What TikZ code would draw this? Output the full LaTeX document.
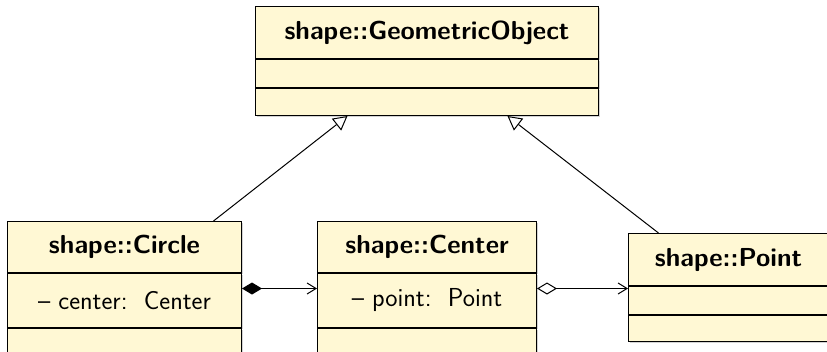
\documentclass[tikz,border=0pt]{standalone}
\usetikzlibrary{positioning, arrows.meta, shadows}
\definecolor{umlfill}{HTML}{FFF8D4}

\begin{document}
\begin{tikzpicture}[x=1pt, y=-1pt,
    every node/.style={draw, fill=umlfill, line width=1pt, inner sep=0pt,
      font=\sffamily\fontsize{26}{31}\selectfont,
      drop shadow={shadow xshift=1.5pt, shadow yshift=-1.5pt, opacity=0.35}},
    nome/.style={font=\sffamily\bfseries\fontsize{26}{31}\selectfont},
    heranca/.style={line width=1pt, -{Triangle[open, fill=white, length=14pt, width=15pt]}},
    compo/.style={line width=1pt, {Diamond[length=20pt, width=12pt]}-{Straight Barb[length=9pt, width=11pt]}},
    agreg/.style={line width=1pt, {Diamond[open, fill=white, length=20pt, width=12pt]}-{Straight Barb[length=9pt, width=11pt]}}]
  \useasboundingbox (0,0) rectangle (827,351);

  % Classes
  \node[nome, minimum width=343pt, minimum height=52pt, anchor=north west] (geo) at (255,6) {shape::GeometricObject};
  \node[minimum width=343pt, minimum height=28pt, below=0pt of geo] (geoattr) {};
  \node[minimum width=343pt, minimum height=27pt, below=0pt of geoattr] (geoops) {};

  \node[nome, minimum width=234pt, minimum height=51pt, anchor=north west] (circ) at (7,221) {shape::Circle};
  \node[minimum width=234pt, minimum height=54pt, below=0pt of circ] (circattr) {-- center:\ \ Center};
  \node[minimum width=234pt, minimum height=28pt, below=0pt of circattr] (circops) {};

  \node[nome, minimum width=219pt, minimum height=51pt, anchor=north west] (cent) at (317,221) {shape::Center};
  \node[minimum width=219pt, minimum height=54pt, below=0pt of cent] (centattr) {-- point:\ \ Point};
  \node[minimum width=219pt, minimum height=28pt, below=0pt of centattr] (centops) {};

  \node[nome, minimum width=200pt, minimum height=52pt, anchor=north west] (pnt) at (628,233) {shape::Point};
  \node[minimum width=200pt, minimum height=28pt, below=0pt of pnt] (pntattr) {};
  \node[minimum width=200pt, minimum height=26pt, below=0pt of pntattr] (pntops) {};

  % Relações
  \draw[heranca] ([xshift=89pt]circ.north) -- ([xshift=-79.5pt]geoops.south);
  \draw[heranca] ([xshift=-70pt]pnt.north) -- ([xshift=80.5pt]geoops.south);
  \draw[compo] ([yshift=12pt]circattr.east) -- ([yshift=12pt]centattr.west);
  \draw[agreg] ([yshift=12pt]centattr.east) -- ([yshift=12pt]pntattr.west);
\end{tikzpicture}
\end{document}
